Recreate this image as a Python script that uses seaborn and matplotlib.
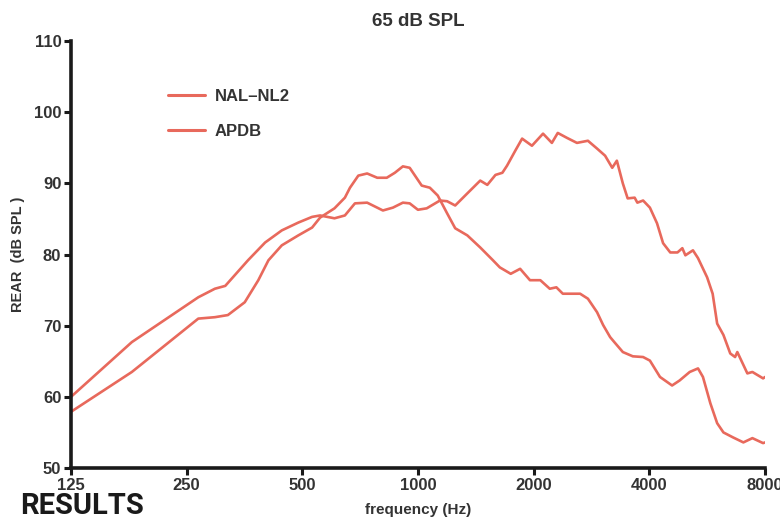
import matplotlib
matplotlib.use("Agg")
import matplotlib.pyplot as plt
import seaborn as sns
import pandas as pd

# ---- data ----
nal_freq = [125, 180, 268, 296, 315, 361, 400, 442, 488, 530, 556, 606, 645, 685, 737,
            810, 860, 913, 951, 999, 1053, 1140, 1190, 1249, 1343, 1451, 1514, 1590, 1657,
            1704, 1790, 1865, 1978, 2114, 2229, 2309, 2441, 2590, 2766, 2922, 3066, 3200,
            3290, 3410, 3510, 3660, 3720, 3850, 4010, 4185, 4340, 4530, 4730, 4870, 4960,
            5190, 5350, 5650, 5840, 6000, 6230, 6490, 6680, 6770, 7190, 7410, 7900, 8000]
nal_vals = [60.0, 67.7, 74.0, 75.2, 75.6, 79.2, 81.7, 83.4, 84.5, 85.3, 85.5, 85.1, 85.5,
            87.2, 87.3, 86.2, 86.6, 87.3, 87.2, 86.3, 86.5, 87.6, 87.5, 86.9, 88.6, 90.4,
            89.8, 91.2, 91.5, 92.5, 94.6, 96.3, 95.3, 97.0, 95.7, 97.1, 96.4, 95.7, 96.0,
            94.9, 93.9, 92.2, 93.2, 90.0, 87.9, 88.0, 87.3, 87.6, 86.6, 84.4, 81.6, 80.3,
            80.3, 80.9, 79.9, 80.6, 79.5, 76.8, 74.5, 70.3, 68.7, 66.1, 65.6, 66.3, 63.3,
            63.5, 62.6, 62.8]

apdb_freq = [125, 180, 268, 296, 320, 354, 384, 408, 442, 488, 530, 556, 606, 645, 665,
             699, 737, 783, 829, 870, 913, 951, 1022, 1073, 1125, 1190, 1249, 1343, 1451,
             1566, 1632, 1742, 1843, 1955, 2080, 2201, 2290, 2380, 2640, 2766, 2922, 3030,
             3160, 3240, 3410, 3620, 3850, 4010, 4260, 4580, 4790, 5090, 5350, 5510, 5760,
             6000, 6230, 6600, 7020, 7410, 7900, 8000]
apdb_vals = [57.9, 63.5, 71.0, 71.2, 71.5, 73.3, 76.4, 79.2, 81.3, 82.7, 83.8, 85.2, 86.5,
             88.0, 89.4, 91.1, 91.4, 90.8, 90.8, 91.5, 92.4, 92.2, 89.7, 89.4, 88.3, 85.8,
             83.7, 82.7, 81.0, 79.2, 78.2, 77.3, 78.0, 76.4, 76.4, 75.2, 75.4, 74.5, 74.5,
             73.8, 71.9, 70.1, 68.4, 67.7, 66.3, 65.7, 65.6, 65.1, 62.8, 61.6, 62.3, 63.5,
             64.0, 62.8, 59.1, 56.3, 55.0, 54.3, 53.6, 54.2, 53.5, 53.6]

series_names = ["NAL\u2013NL2", "APDB"]
x_ticks = [125, 250, 500, 1000, 2000, 4000, 8000]
y_ticks = [50, 60, 70, 80, 90, 100, 110]

df = pd.concat([
    pd.DataFrame({"freq": nal_freq, "rear": nal_vals, "series": series_names[0]}),
    pd.DataFrame({"freq": apdb_freq, "rear": apdb_vals, "series": series_names[1]}),
], ignore_index=True)

sns.set_theme(style="white")
plt.rcParams["font.family"] = ["Liberation Sans", "DejaVu Sans"]

line_color = "#E8695C"
text_color = "#333333"

fig = plt.figure(figsize=(7.8, 5.21), dpi=100)
ax = fig.add_axes([0.091, 0.1017, 0.890, 0.8193])

sns.lineplot(data=df, x="freq", y="rear", hue="series", hue_order=series_names,
             palette={series_names[0]: line_color, series_names[1]: line_color},
             linewidth=1.9, sort=False, ax=ax, legend=True, estimator=None)

ax.set_xscale("log")
ax.set_xlim(125, 8000)
ax.set_ylim(50, 110)
ax.set_xticks(x_ticks)
ax.set_xticklabels([str(t) for t in x_ticks])
ax.set_yticks(y_ticks)
ax.set_yticklabels([str(t) for t in y_ticks])
ax.minorticks_off()

for s in ["top", "right"]:
    ax.spines[s].set_visible(False)
for s in ["left", "bottom"]:
    ax.spines[s].set_linewidth(2.6)
    ax.spines[s].set_color("#1a1a1a")

ax.tick_params(axis="both", which="major", direction="out", length=5, width=2.2,
               color="#1a1a1a", labelsize=12, labelcolor=text_color, pad=2,
               bottom=True, left=True)
for lab in ax.get_xticklabels() + ax.get_yticklabels():
    lab.set_fontweight("bold")

ax.set_xlabel("frequency (Hz)", fontsize=11, fontweight="bold", color=text_color)
ax.set_ylabel("REAR  (dB SPL )", fontsize=10.5, fontweight="bold", color=text_color)
ax.xaxis.set_label_coords(0.5, -0.083)
ax.yaxis.set_label_coords(-0.066, 0.5)
ax.set_title("65 dB SPL", fontsize=13.5, fontweight="bold", color=text_color, pad=11)

leg = ax.legend(loc="upper left", bbox_to_anchor=(0.140, 0.888), frameon=False,
                handlelength=2.2, labelspacing=1.2, handletextpad=0.6,
                borderaxespad=0.0, borderpad=0.0,
                prop={"weight": "bold", "size": 12})
for t in leg.get_texts():
    t.set_color(text_color)
for h in leg.get_lines():
    h.set_linewidth(2.2)

fig.text(0.026, 0.002, "RESULTS", fontsize=21, fontweight="bold", color="#1a1a1a",
         family=["Roboto", "DejaVu Sans"], ha="left", va="bottom")

fig.savefig("out.png", dpi=100, facecolor="white")
